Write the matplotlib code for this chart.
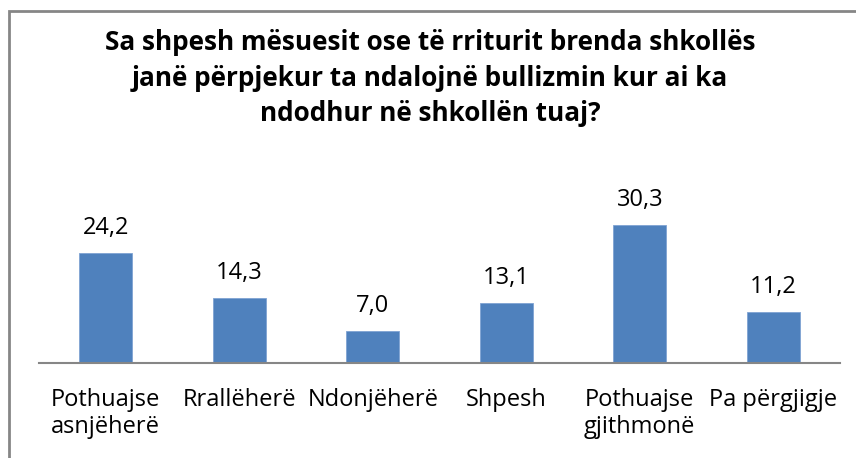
import matplotlib
matplotlib.use("Agg")
import matplotlib.pyplot as plt
from matplotlib.patches import Rectangle

# te dhenat e grafikut
categories = ["Pothuajse\nasnjëherë", "Rrallëherë", "Ndonjëherë", "Shpesh",
              "Pothuajse\ngjithmonë", "Pa përgjigje"]
values = [24.2, 14.3, 7.0, 13.1, 30.3, 11.2]
title = ("Sa shpesh mësuesit ose të rriturit brenda shkollës\n"
         "janë përpjekur ta ndalojnë bullizmin kur ai ka\n"
         "ndodhur në shkollën tuaj?")

plt.rcParams['font.family'] = ['Open Sans', 'DejaVu Sans']

fig = plt.figure(figsize=(8.56, 4.58), dpi=100)
W, H = 856, 458

# korniza e grafikut (vetem majtas dhe lart duken)
fig.patches.append(Rectangle((8.5 / W, -0.1), 1.2, (H - 10.5) / H + 0.1,
                             transform=fig.transFigure, fill=False,
                             edgecolor='#868686', linewidth=2))

fig.text(430 / W, 1 - 78 / H, title, ha='center', va='center',
         fontsize=18.8, fontweight='bold', linespacing=1.42)

ax = fig.add_axes([39 / W, 1 - 363 / H, (840 - 39) / W, (363 - 204) / H])
x = range(len(values))
bars = ax.bar(x, values, width=0.4, color='#4F81BD', edgecolor='#7FA3D3', linewidth=0.6)
ax.set_xlim(-0.5, len(values) - 0.5)
ax.set_ylim(0, 35)

for b, v in zip(bars, values):
    ax.annotate(f"{v:.1f}".replace('.', ','), (b.get_x() + b.get_width() / 2, v),
                xytext=(0, 19), textcoords='offset pixels', ha='center', va='baseline',
                fontsize=17)

ax.set_xticks(list(x))
ax.set_xticklabels(categories, fontsize=17, linespacing=1.15)
ax.tick_params(axis='x', length=0, pad=18)
ax.set_yticks([])
for s in ['top', 'right', 'left']:
    ax.spines[s].set_visible(False)
ax.spines['bottom'].set_color('#868686')
ax.spines['bottom'].set_linewidth(1.5)

fig.savefig("out.png", dpi=100)
